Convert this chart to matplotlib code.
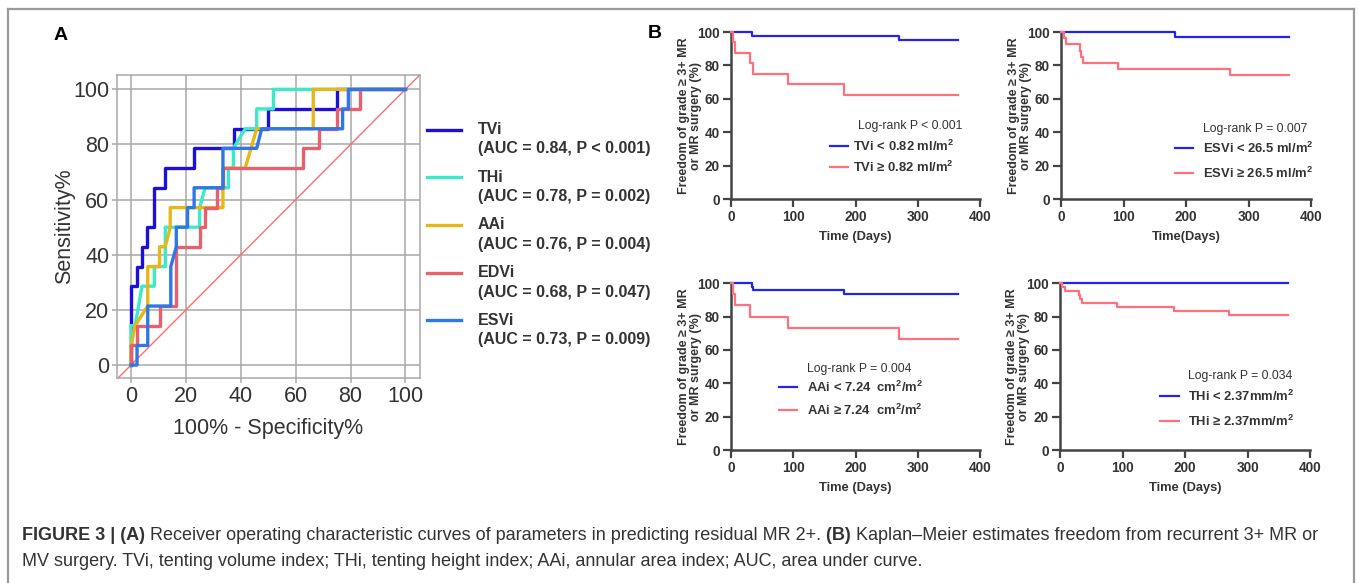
import matplotlib
matplotlib.use('Agg')
import matplotlib.pyplot as plt
from matplotlib.lines import Line2D

plt.rcParams['font.family'] = ['Liberation Sans', 'DejaVu Sans']
plt.rcParams['mathtext.fontset'] = 'custom'
plt.rcParams['mathtext.bf'] = 'Liberation Sans:bold'
plt.rcParams['mathtext.rm'] = 'Liberation Sans'

# ---- ROC data (100% - specificity, sensitivity) ----
tvi_x = [0, 0, 2.2, 2.2, 4, 4, 6, 6, 8.5, 8.5, 12.5, 12.5, 23, 23, 37.5, 37.5, 50, 50, 75, 75, 100]
tvi_y = [0, 28.6, 28.6, 35.7, 35.7, 42.9, 42.9, 50, 50, 64.3, 64.3, 71.4, 71.4, 78.6, 78.6, 85.7, 85.7, 92.9, 92.9, 100, 100]
thi_x = [0, 0, 1.5, 4, 8.5, 8.5, 12.5, 12.5, 25, 25, 27, 35.5, 35.5, 37.3, 37.3, 41.6, 45.8, 45.8, 51.9, 51.9, 100]
thi_y = [0, 14.3, 14.3, 28.6, 28.6, 35.7, 35.7, 50, 50, 57.1, 64.3, 64.3, 71.4, 71.4, 78.6, 85.7, 85.7, 92.9, 92.9, 100, 100]
aai_x = [0, 0, 1.5, 6.1, 6.1, 10.4, 10.4, 12.5, 14.3, 14.3, 33.5, 33.5, 41.6, 45.8, 66.4, 66.4, 100]
aai_y = [0, 7.1, 14.3, 21.4, 35.7, 35.7, 42.9, 42.9, 50, 57.1, 57.1, 71.4, 71.4, 85.7, 85.7, 100, 100]
edvi_x = [0, 0, 2.2, 2.2, 10.4, 10.4, 16.5, 16.5, 25, 25, 27, 27, 31.3, 31.3, 33.5, 33.5, 62.8, 62.8, 68.6, 68.6, 74.9, 74.9, 83.4, 83.4, 100]
edvi_y = [0, 7.1, 7.1, 14.3, 14.3, 21.4, 21.4, 42.9, 42.9, 50, 50, 57.1, 57.1, 64.3, 64.3, 71.4, 71.4, 78.6, 78.6, 85.7, 85.7, 92.9, 92.9, 100, 100]
esvi_x = [0, 2.2, 2.2, 6.1, 6.1, 14.5, 14.5, 16.5, 16.5, 20.6, 20.6, 23, 23, 33.5, 33.5, 45.8, 47.6, 77.1, 77.1, 79.2, 79.2, 100]
esvi_y = [0, 0, 7.1, 7.1, 21.4, 21.4, 35.7, 42.9, 50, 50, 57.1, 57.1, 64.3, 64.3, 78.6, 78.6, 85.7, 85.7, 92.9, 92.9, 100, 100]

roc_ticks = [0, 20, 40, 60, 80, 100]
roc_names = ['TVi', 'THi', 'AAi', 'EDVi', 'ESVi']
roc_auc = ['(AUC = 0.84, P < 0.001)', '(AUC = 0.78, P = 0.002)', '(AUC = 0.76, P = 0.004)',
           '(AUC = 0.68, P = 0.047)', '(AUC = 0.73, P = 0.009)']
roc_colors = ['#1c0fd9', '#3aebc9', '#e9b617', '#e8606c', '#2f76e6']
roc_data = [(tvi_x, tvi_y), (thi_x, thi_y), (aai_x, aai_y), (edvi_x, edvi_y), (esvi_x, esvi_y)]

# ---- Kaplan-Meier data (days, % free) ----
tvi_lo_t = [0, 33, 270, 365]
tvi_lo_s = [100, 97.6, 95.5, 95.5]
tvi_hi_t = [0, 3, 6, 30, 35, 91, 182, 365]
tvi_hi_s = [100, 93.8, 87.5, 81.3, 75, 68.8, 62.5, 62.5]

esvi_lo_t = [0, 182, 365]
esvi_lo_s = [100, 97.1, 97.1]
esvi_hi_t = [0, 4, 8, 30, 32, 35, 91, 270, 365]
esvi_hi_s = [100, 96.3, 92.6, 88.9, 85.2, 81.5, 77.8, 74.1, 74.1]

aai_lo_t = [0, 33, 35, 182, 365]
aai_lo_s = [100, 97.8, 95.7, 93.5, 93.5]
aai_hi_t = [0, 3, 7, 30, 91, 270, 365]
aai_hi_s = [100, 93.3, 86.7, 80, 73.3, 66.7, 66.7]

thi_lo_t = [0, 365]
thi_lo_s = [100, 100]
thi_hi_t = [0, 3, 8, 30, 32, 35, 91, 182, 270, 365]
thi_hi_s = [100, 97.6, 95.2, 92.9, 90.5, 88.1, 85.7, 83.3, 81.0, 81.0]

W, H = 1358, 583
fig = plt.figure(figsize=(W / 100, H / 100), dpi=100)


def fx(x):
    return x / W


def fy(y):
    return 1 - y / H


def rect(l, t, r, b):
    return [fx(l), fy(b), fx(r) - fx(l), fy(t) - fy(b)]


# outer frame
frame_col = '#9a9a9a'
fig.add_artist(Line2D([fx(8), fx(8)], [fy(9), -0.01], color=frame_col, lw=1.6))
fig.add_artist(Line2D([fx(8), fx(1354)], [fy(9), fy(9)], color=frame_col, lw=1.6))
fig.add_artist(Line2D([fx(1354), fx(1354)], [fy(9), -0.01], color=frame_col, lw=1.6))

# ---------- panel A : ROC ----------
ax = fig.add_axes(rect(117, 75, 420, 378))
ax.set_xlim(-5.1, 105.3)
ax.set_ylim(-4.7, 105.2)
ax.set_xticks(roc_ticks)
ax.set_xticklabels([str(t) for t in roc_ticks])
ax.set_yticks(roc_ticks)
ax.set_yticklabels([str(t) for t in roc_ticks])
ax.grid(True, color='#a8a8a8', lw=1.1)
ax.set_axisbelow(True)
for s in ax.spines.values():
    s.set_color('#a8a8a8')
    s.set_linewidth(1.1)
ax.tick_params(length=3.5, width=1.1, color='#a8a8a8', labelsize=15.5, labelcolor='#333333', pad=2)
ax.plot([-6, 106], [-6, 106], color='#ff6b6b', lw=1.0)
for (xs, ys), c in zip(roc_data, roc_colors):
    ax.plot(xs, ys, color=c, lw=2.4)
ax.set_xlabel('100% - Specificity%', fontsize=15.5, color='#333333', labelpad=8)
ax.set_ylabel('Sensitivity%', fontsize=15.5, color='#333333', labelpad=-1)
fig.text(fx(54), fy(35), 'A', fontsize=14, fontweight='bold', va='center')

# ROC legend
for i, (n, a, c) in enumerate(zip(roc_names, roc_auc, roc_colors)):
    y0 = 129.5 + i * 47.7
    fig.add_artist(Line2D([fx(427), fx(461)], [fy(y0), fy(y0)], color=c, lw=2.4))
    fig.text(fx(478), fy(y0), n, fontsize=11.5, fontweight='bold', color='#333333', va='center')
    fig.text(fx(478), fy(y0 + 19.5), a, fontsize=11.5, fontweight='bold', color='#333333', va='center')

# ---------- panel B : Kaplan-Meier ----------
km_blue = '#2424f0'
km_red = '#ff6f7c'
sq = r'$\mathbf{^2}$'
ylab = 'Freedom of grade \u2265 3+ MR\nor MR surgery (%)'
panels = [
    (rect(731, 32, 980, 199.3), tvi_lo_t, tvi_lo_s, tvi_hi_t, tvi_hi_s,
     'Log-rank P < 0.001', 'TVi < 0.82 ml/m' + sq, 'TVi \u2265 0.82 ml/m' + sq, 'Time (Days)',
     (0.510, 0.438), (0.398, 0.470, 0.490), (0.319, 0.193)),
    (rect(1061, 32, 1311, 199.3), esvi_lo_t, esvi_lo_s, esvi_hi_t, esvi_hi_s,
     'Log-rank P = 0.007', 'ESVi < 26.5 ml/m' + sq, 'ESVi \u2265 26.5 ml/m' + sq, 'Time(Days)',
     (0.568, 0.420), (0.456, 0.528, 0.568), (0.307, 0.157)),
    (rect(731, 283.3, 980, 450), aai_lo_t, aai_lo_s, aai_hi_t, aai_hi_s,
     'Log-rank P = 0.004', 'AAi < 7.24  cm' + sq + '/m' + sq, 'AAi \u2265 7.24  cm' + sq + '/m' + sq, 'Time (Days)',
     (0.305, 0.486), (0.193, 0.265, 0.305), (0.378, 0.240)),
    (rect(1060, 283.3, 1310, 450), thi_lo_t, thi_lo_s, thi_hi_t, thi_hi_s,
     'Log-rank P = 0.034', 'THi < 2.37mm/m' + sq, 'THi \u2265 2.37mm/m' + sq, 'Time (Days)',
     (0.512, 0.444), (0.400, 0.476, 0.512), (0.324, 0.174)),
]

for pos, lt, ls, ht, hs, lr, l1, l2, xl, lrpos, hpos, rows in panels:
    a = fig.add_axes(pos)
    a.step(lt, ls, where='post', color=km_blue, lw=1.6, clip_on=False, zorder=3)
    a.step(ht, hs, where='post', color=km_red, lw=1.6, clip_on=False, zorder=3)
    a.set_xlim(0, 400)
    a.set_ylim(0, 100)
    a.set_xticks([0, 100, 200, 300, 400])
    a.set_yticks([0, 20, 40, 60, 80, 100])
    for sp in ['top', 'right']:
        a.spines[sp].set_visible(False)
    for sp in ['left', 'bottom']:
        a.spines[sp].set_color('#444444')
        a.spines[sp].set_linewidth(1.8)
    a.tick_params(length=5.5, width=1.6, color='#444444', labelsize=9.8, labelcolor='#333333', pad=2.5)
    for lab in a.get_xticklabels() + a.get_yticklabels():
        lab.set_fontweight('bold')
    a.set_xlabel(xl, fontsize=9.3, fontweight='bold', color='#333333', labelpad=5)
    a.set_ylabel(ylab, fontsize=9, fontweight='bold', color='#333333', linespacing=1.0)
    a.yaxis.set_label_coords(-0.118, 0.5)
    a.text(lrpos[0], lrpos[1], lr, transform=a.transAxes, fontsize=8.8, color='#333333', va='center')
    for yy, col, lab in zip(rows, [km_blue, km_red], [l1, l2]):
        a.plot([hpos[0], hpos[1]], [yy, yy], transform=a.transAxes, color=col, lw=1.6, clip_on=False)
        a.text(hpos[2], yy, lab, transform=a.transAxes, fontsize=9.4, fontweight='bold',
               color='#333333', va='center')

fig.text(fx(648), fy(33), 'B', fontsize=14, fontweight='bold', va='center')

# ---------- caption ----------
renderer = fig.canvas.get_renderer()


def rich_line(parts, x, y, size=13):
    for txt, w in parts:
        t = fig.text(x, y, txt, fontsize=size, fontweight=w, color='#333333', va='center', ha='left')
        bb = t.get_window_extent(renderer)
        x = bb.x1 / fig.bbox.width


rich_line([('FIGURE 3 | (A)', 'bold'),
           (' Receiver operating characteristic curves of parameters in predicting residual MR 2+.', 'normal'),
           (' (B)', 'bold'),
           (' Kaplan\u2013Meier estimates freedom from recurrent 3+ MR or', 'normal')], fx(22), fy(536))
rich_line([('MV surgery. TVi, tenting volume index; THi, tenting height index; AAi, annular area index; AUC, area under curve.', 'normal')],
          fx(22), fy(561))

fig.savefig('out.png', dpi=100)
